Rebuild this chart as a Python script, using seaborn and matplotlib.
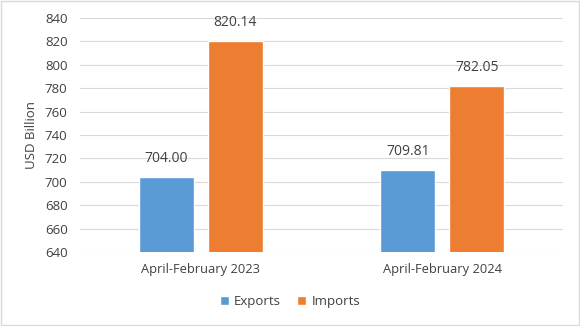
import matplotlib
matplotlib.use("Agg")
import matplotlib.pyplot as plt
import seaborn as sns
import pandas as pd

categories = ["April-February 2023", "April-February 2024"]
exports = [704.00, 709.81]
imports = [820.14, 782.05]
series = ["Exports", "Imports"]
yticks = [640, 660, 680, 700, 720, 740, 760, 780, 800, 820, 840]

df = pd.DataFrame({
    "period": categories * 2,
    "series": ["Exports"] * 2 + ["Imports"] * 2,
    "value": exports + imports,
})

sns.set_theme(style="white")
plt.rcParams["font.family"] = ["Open Sans", "DejaVu Sans"]
txt = "#404040"

fig = plt.figure(figsize=(5.8, 3.26), dpi=100)
ax = fig.add_axes([0.138, 0.227, 0.833, 0.718])
sns.barplot(data=df, x="period", y="value", hue="series", hue_order=series,
            palette=["#5B9BD5", "#ED7D31"], width=0.571, gap=0.203,
            ax=ax, saturation=1, legend=True)
ax.set_ylim(640, 840)
ax.set_yticks(yticks)
ax.set_yticklabels([str(t) for t in yticks], fontsize=9.5, color=txt)
ax.tick_params(axis="x", labelsize=9.3, colors=txt, length=0, pad=8)
ax.tick_params(axis="y", length=0, pad=9)
ax.set_xlabel("")
ax.set_ylabel("USD Billion", fontsize=9.5, color=txt, labelpad=5)
ax.grid(axis="y", color="#D9D9D9", linewidth=0.8)
ax.set_axisbelow(True)
for s in ax.spines.values():
    s.set_visible(False)

for cont in ax.containers:
    ax.bar_label(cont, labels=[f"{v:.2f}" for v in cont.datavalues],
                 padding=8, fontsize=10, color=txt)

h, l = ax.get_legend_handles_labels()
ax.legend_.remove()
fig.legend(h, l, loc="center", bbox_to_anchor=(0.5, 0.075), ncol=2, frameon=False,
           fontsize=9.5, handlelength=0.7, handleheight=0.7, handletextpad=0.4,
           columnspacing=1.2, labelcolor=txt)

fig.patches.append(plt.Rectangle((0.002, 0.003), 0.996, 0.994, transform=fig.transFigure,
                                 fill=False, edgecolor="#D9D9D9", linewidth=1))
fig.savefig("out.png", dpi=100)
